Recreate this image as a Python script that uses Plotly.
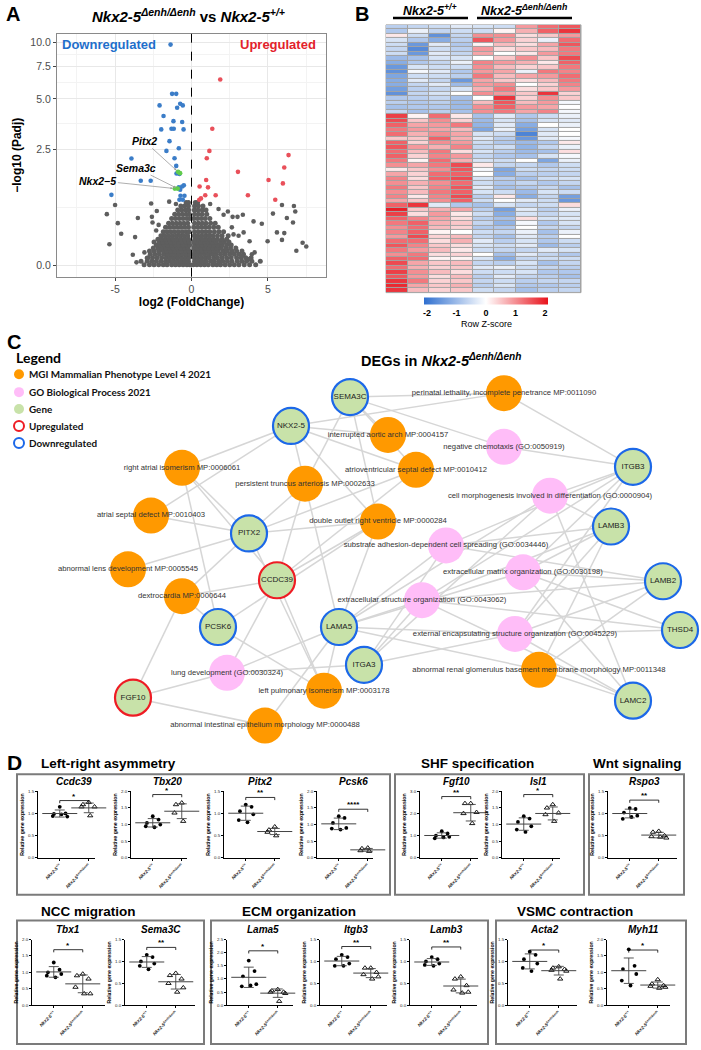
import numpy as np
import plotly.graph_objects as go

W, H = 701, 1050
FONT = "Liberation Sans"
LEG_FONT = "Lato"


def fx(p):
    return p / W


def fy(p):
    return 1 - p / H


# ======================= PANEL A : volcano data =======================
down_fc = [-1.37, -1.27, -1.00, -2.09, -0.74, -0.94, -0.57, -1.83, -1.18, -1.98, -1.31,
           -1.16, -0.61, -1.44, -1.64, -0.83, -0.52, -3.93, -1.11, -1.00, -0.98, -0.79,
           -3.32, -2.67, -0.50, -0.61, -0.83, -0.74, -5.24, -0.72, -0.79, -0.57, -0.46]
down_p = [9.74, 5.33, 5.33, 4.59, 4.69, 4.45, 4.59, 3.99, 3.72, 3.32, 3.35,
          3.35, 3.68, 2.81, 2.43, 2.53, 3.32, 2.16, 2.17, 1.92, 1.69, 1.68,
          1.49, 1.49, 1.37, 1.34, 1.32, 1.26, 1.14, 1.12, 1.03, 1.03, 1.12]
up_fc = [1.88, 1.36, 1.17, 1.00, 6.35, 6.07, 3.04, 0.96, 5.04, 5.98, 0.53, 1.08,
         0.90, 1.58, 3.69, 5.48, 0.51, 0.62]
up_p = [6.38, 3.35, 2.43, 2.17, 2.28, 1.87, 1.74, 1.51, 1.51, 1.42, 1.34, 1.32,
        1.13, 1.13, 1.13, 1.03, 1.03, 1.06]
hl_genes = ["Pitx2", "", "Sema3c", "Nkx2\u22125"]
hl_fc = [-0.88, -0.75, -0.91, -1.09]
hl_p = [1.74, 1.70, 1.29, 1.29]

# dense non-significant cloud, one list of fold changes per -log10(padj) level
cloud_levels = [0.01, 0.05, 0.09, 0.13, 0.17, 0.21, 0.25, 0.29, 0.33, 0.38, 0.44,
                0.51, 0.58, 0.66, 0.74, 0.82, 0.90, 0.97]
cloud_fc = [
    [-3.1, -2.75, -2.45, -2.15, -1.85, -1.6, -1.3, -1.05, -0.8, -0.55, -0.3, -0.1, 0.12, 0.35,
     0.6, 0.85, 1.1, 1.4, 1.65, 1.9, 2.2, 2.5, 2.8, 3.1, 3.45, 3.8, 4.2],
    [-3.3, -2.9, -2.6, -2.3, -2.0, -1.7, -1.45, -1.2, -0.95, -0.7, -0.45, -0.2, 0.2, 0.45,
     0.7, 0.95, 1.25, 1.5, 1.8, 2.05, 2.35, 2.65, 3.0, 3.3, 3.6, 3.95, 4.5],
    [-2.85, -2.55, -2.25, -1.95, -1.65, -1.4, -1.15, -0.9, -0.65, -0.4, -0.18, 0.18, 0.4,
     0.65, 0.9, 1.15, 1.45, 1.7, 2.0, 2.3, 2.6, 2.95, 3.25, 3.55, 3.9],
    [-2.7, -2.4, -2.1, -1.8, -1.55, -1.3, -1.05, -0.8, -0.55, -0.3, -0.12, 0.15, 0.35, 0.6,
     0.85, 1.1, 1.35, 1.6, 1.9, 2.2, 2.5, 2.8, 3.1, 3.4],
    [-2.75, -2.45, -2.15, -1.85, -1.6, -1.35, -1.1, -0.85, -0.6, -0.38, -0.15, 0.2, 0.45,
     0.7, 0.95, 1.2, 1.5, 1.75, 2.05, 2.35, 2.65, 2.95, 3.3],
    [-2.5, -2.2, -1.95, -1.7, -1.45, -1.2, -0.95, -0.7, -0.45, -0.22, 0.15, 0.38, 0.62,
     0.88, 1.12, 1.38, 1.65, 1.95, 2.25, 2.55, 2.9],
    [-2.3, -2.05, -1.8, -1.55, -1.3, -1.05, -0.8, -0.55, -0.3, -0.12, 0.2, 0.45, 0.7, 0.95,
     1.2, 1.45, 1.75, 2.0, 2.3, 2.6],
    [-2.45, -2.1, -1.85, -1.6, -1.35, -1.1, -0.85, -0.6, -0.35, -0.15, 0.15, 0.38, 0.6,
     0.85, 1.1, 1.35, 1.6, 1.9, 2.15, 2.45],
    [-2.2, -1.95, -1.7, -1.45, -1.2, -0.95, -0.7, -0.45, -0.2, 0.22, 0.45, 0.7, 0.95, 1.2,
     1.45, 1.7, 2.0, 2.3],
    [-2.0, -1.75, -1.5, -1.25, -1.0, -0.75, -0.5, -0.25, 0.18, 0.4, 0.65, 0.9, 1.15, 1.4,
     1.7, 2.0, 2.4],
    [-1.85, -1.6, -1.35, -1.1, -0.85, -0.6, -0.35, -0.15, 0.2, 0.45, 0.7, 0.95, 1.2, 1.5,
     1.8, 2.1],
    [-1.7, -1.45, -1.2, -0.95, -0.7, -0.45, -0.2, 0.15, 0.4, 0.65, 0.9, 1.15, 1.45, 1.75],
    [-1.5, -1.25, -1.0, -0.75, -0.5, -0.25, 0.2, 0.45, 0.7, 0.95, 1.25, 1.55],
    [-1.3, -1.05, -0.8, -0.55, -0.3, -0.12, 0.15, 0.4, 0.65, 0.9, 1.2],
    [-1.1, -0.85, -0.6, -0.35, -0.15, 0.2, 0.45, 0.7, 1.0],
    [-0.9, -0.65, -0.4, -0.18, 0.18, 0.42, 0.7, 0.95],
    [-0.7, -0.45, -0.2, 0.2, 0.45, 0.75],
    [-0.35, -0.2, 0.25, 0.4],
]
out_fc = [-5.54, -5.0, -4.82, -4.6, -5.37, -3.69, -3.51, -3.84, -3.6, -2.64, -2.59, -2.27,
          -2.55, -2.15, -2.31, -3.08, -2.92, -1.46, -1.02, 1.22, 1.77, 2.1, 2.38, 2.69, 3.01,
          3.36, 4.06, 4.6, 3.41, 3.8, 4.98, 5.59, 6.07, 5.92, 5.33, 5.92, 6.24, 6.64, 6.79,
          6.7, 7.27, 7.51, 6.86, 4.13, 3.95, 3.78, 3.3, 2.75, 3.08, 2.64]
out_p = [0.74, 0.92, 0.58, 0.41, 0.26, 0.36, 0.67, 0.125, 0.037, 0.95, 0.69, 0.80,
         0.59, 0.55, 0.46, 0.154, 0.087, 0.99, 0.94, 0.94, 0.84, 0.73, 0.79, 0.69, 0.69,
         0.73, 0.61, 0.57, 0.43, 0.30, 0.30, 0.43, 0.42, 0.32, 0.75, 0.92, 0.67, 0.59, 0.79,
         0.90, 0.28, 0.23, 0.175, 0.154, 0.13, 0.074, 0.11, 0.40, 0.38, 0.51]
padj_threshold = 1.0
volcano_ticks = [0.0, 2.5, 5.0, 7.5, 10.0]

# ======================= PANEL B : heatmap data =======================
heat_samples = ["WT1", "WT2", "WT3", "WT4", "KO1", "KO2", "KO3", "KO4", "KO5"]
heat_z = [
    [-0.7, -0.6, -0.5, -0.3, -0.4, -0.5, 0.9, 1.3, 1.5],
    [-0.8, -0.2, -0.6, -0.5, -0.5, 0.1, 0.7, 1.4, 1.8],
    [0.2, -0.5, -1.6, -0.6, 1.0, 1.0, 0.3, 0.5, 0.9],
    [-0.4, -0.8, -1.2, -0.7, 1.5, 0.9, 0.4, -0.2, 1.3],
    [-0.5, -1.5, -0.3, -0.8, 0.1, 0.6, 0.3, 0.8, 1.5],
    [-0.6, -1.7, -0.5, -0.7, 0.9, 0.3, 0.5, 0.6, 1.2],
    [-0.5, -1.5, -0.3, -0.6, 0.8, 0.0, 0.2, 0.9, 1.2],
    [-1.0, -0.9, -0.4, -0.4, 0.0, 0.5, 1.0, 0.5, 1.6],
    [-1.2, -0.8, -0.6, -0.2, 1.1, 0.9, 0.7, 0.2, 1.4],
    [-1.5, -0.4, -0.5, -0.5, 1.0, 0.6, 0.4, 0.5, 1.2],
    [-1.6, -0.1, -0.3, -0.8, 0.9, 0.8, -0.2, 1.2, 1.1],
    [-1.3, -0.5, -0.5, -0.7, 1.2, 0.6, 0.8, 0.9, 1.3],
    [-1.2, -0.3, -0.6, -1.5, 0.8, 0.5, 0.3, 0.6, 1.2],
    [-1.2, -0.6, -0.3, -1.0, 0.9, 1.0, 0.0, 0.4, 1.1],
    [-1.4, -0.7, -0.6, -0.4, 0.7, 1.2, 0.3, 0.5, 0.9],
    [-1.6, -0.6, -0.4, 0.0, 1.0, 0.9, 0.5, 1.8, 0.4],
    [-0.8, -0.7, -0.6, -0.9, 0.0, 1.8, 0.4, 1.0, 0.5],
    [-0.7, -0.8, -0.7, -1.0, 0.6, 1.5, 0.6, 0.9, -0.1],
    [-0.9, -0.8, -0.8, -1.0, 1.0, 1.4, 0.9, 0.8, 0.0],
    [-0.6, -0.9, -0.7, -0.9, 1.0, 1.2, 0.8, 1.1, -0.1],
    [1.7, 0.1, 1.3, 0.2, -0.9, -0.3, -0.8, -0.5, -0.2],
    [1.6, 0.5, 1.0, 0.4, -1.0, -0.4, -0.9, -0.4, -0.3],
    [1.4, 0.8, 0.9, 1.2, -1.1, -0.3, -1.2, 0.0, -0.2],
    [1.2, 0.9, 0.8, 0.6, -1.3, -0.2, -1.4, -0.4, 0.0],
    [1.3, 0.7, 1.0, 0.8, -0.4, -0.5, -1.8, -0.3, 0.0],
    [0.5, 0.5, 1.4, 0.7, -0.3, -0.7, -1.5, -0.3, -0.1],
    [1.4, 0.4, 1.0, 0.9, -0.5, -0.8, -1.0, -0.8, 0.2],
    [1.5, 0.9, 0.7, 1.1, -0.6, -0.5, -1.1, -0.6, -0.2],
    [1.3, 0.6, 1.2, 0.3, -0.4, -0.7, -1.0, -0.9, 0.3],
    [1.4, 0.4, 1.1, 0.9, -0.6, -0.8, -0.9, -0.4, -0.1],
    [1.2, 0.1, 1.3, 0.7, -0.4, -0.5, 0.0, -1.3, -0.2],
    [1.0, 0.8, 1.2, 1.6, 0.2, -0.6, -0.6, -0.8, -0.5],
    [0.2, 0.5, 1.0, 1.5, -0.1, -1.3, -0.5, -0.6, -0.5],
    [0.8, 0.4, 1.3, 1.4, 0.0, -1.2, -0.7, -0.7, -0.6],
    [1.1, 0.3, 1.4, 1.6, -0.4, -0.7, -0.9, -0.5, -0.4],
    [1.0, 0.7, 1.0, 1.3, -0.5, -0.8, -0.6, -0.8, -0.6],
    [1.2, 0.5, 1.1, 1.5, -0.3, -0.9, -0.8, -0.6, -0.9],
    [1.0, 0.6, 1.2, 1.4, -0.4, -0.5, -1.0, -0.4, -0.5],
    [1.1, 0.2, 1.1, 1.6, -0.7, 0.2, -1.2, -0.6, -1.4],
    [0.8, 0.5, 1.0, 1.4, -0.5, 0.0, -0.3, -0.5, -1.5],
    [1.4, 1.8, -0.3, -0.8, -0.9, -0.4, -0.6, -0.5, 0.3],
    [2.0, 0.5, 0.7, 0.8, -0.7, -1.4, -0.3, -0.7, -0.2],
    [1.7, 0.3, 0.9, 0.2, -0.5, -1.2, -0.4, -0.6, -0.4],
    [1.4, 1.1, 0.8, 0.3, -0.7, -0.9, 0.3, -0.4, -0.3],
    [1.2, 1.4, 0.7, 0.5, -0.6, -1.1, -0.1, -0.8, -0.4],
    [1.0, 1.3, 0.6, 0.4, -0.8, -0.8, 0.0, -0.6, -0.6],
    [1.1, 1.4, 0.1, 0.0, -0.5, -0.6, -0.2, -0.9, -0.2],
    [0.9, 1.6, 0.4, 0.6, -0.6, -0.9, -0.3, -0.7, 0.0],
    [1.3, 1.3, 0.3, 0.7, -0.3, -0.7, -0.4, -0.8, -0.5],
    [1.5, 1.1, 0.5, 0.3, -0.4, -0.5, -0.3, -1.0, -0.7],
    [1.2, 0.9, 0.6, 0.2, -0.5, -0.6, -0.6, -0.3, -0.4],
    [1.0, 1.2, 0.3, 0.4, 0.0, -0.9, -0.3, -0.6, -0.8],
    [1.4, 1.3, 0.1, 0.1, -0.4, -1.2, -0.6, -0.5, -0.5],
    [1.6, 0.8, 0.5, 0.6, -0.6, -0.7, -0.4, -0.9, -0.6],
    [1.3, 0.7, 0.4, 0.5, -0.3, -0.2, -0.5, -0.6, -0.7],
    [1.7, 1.0, 0.6, 0.3, -0.5, -0.5, -0.4, -0.8, -0.8],
    [1.5, 0.9, 0.3, 0.6, -0.7, -0.3, -0.6, -0.7, -0.9],
    [1.8, 1.2, 0.4, 0.5, -0.6, -0.5, -0.7, -0.6, -0.6],
    [1.9, 0.8, 0.5, 0.7, -0.7, -0.4, -0.8, -0.8, -0.7],
    [1.8, 0.6, 0.4, 0.5, -0.5, -0.6, -0.9, -0.7, -0.6],
]
zscore_ticks = [-2, -1, 0, 1, 2]

# ======================= PANEL C : network data =======================
net_names = ["NKX2-5", "SEMA3C", "PITX2", "CCDC39", "PCSK6", "FGF10", "LAMA5", "ITGA3",
             "ITGB3", "LAMB3", "LAMB2", "THSD4", "LAMC2",
             "right atrial isomerism MP:0006061", "persistent truncus arteriosis MP:0002633",
             "atrial septal defect MP:0010403", "abnormal lens development MP:0005545",
             "dextrocardia MP:0000644", "left pulmonary isomerism MP:0003178",
             "abnormal intestinal epithelium morphology MP:0000488",
             "perinatal lethality, incomplete penetrance MP:0011090",
             "interrupted aortic arch MP:0004157", "atrioventricular septal defect MP:0010412",
             "double outlet right ventricle MP:0000284",
             "abnormal renal glomerulus basement membrane morphology MP:0011348",
             "negative chemotaxis (GO:0050919)",
             "cell morphogenesis involved in differentiation (GO:0000904)",
             "substrate adhesion-dependent cell spreading (GO:0034446)",
             "extracellular matrix organization (GO:0030198)",
             "extracellular structure organization (GO:0043062)",
             "external encapsulating structure organization (GO:0045229)",
             "lung development (GO:0030324)"]
net_kind = ["down", "down", "down", "up", "down", "up", "down", "down", "down", "down", "down",
            "down", "down"] + ["mgi"] * 12 + ["go"] * 7
net_x = [291, 350, 249, 277, 218, 133, 339, 364, 633, 611, 663, 680, 633,
         182, 305, 151, 128, 182, 324, 265, 504, 388, 416, 378, 539,
         504, 550, 446, 523, 422, 515, 227]
net_y = [426, 397, 534, 581, 628, 699, 628, 666, 467, 527, 582, 631, 702,
         468, 484, 516, 570, 597, 692, 727, 393, 435, 470, 522, 671,
         447, 496, 546, 573, 601, 635, 674]
net_edges = [
    ("NKX2-5", 13), ("NKX2-5", 20), ("NKX2-5", 22), ("NKX2-5", 23), ("NKX2-5", 15), ("NKX2-5", 14),
    ("NKX2-5", 21),
    ("SEMA3C", 20), ("SEMA3C", 25), ("SEMA3C", 21), ("SEMA3C", 14), ("SEMA3C", 23), ("SEMA3C", 22),
    ("PITX2", 13), ("PITX2", 15), ("PITX2", 16), ("PITX2", 17), ("PITX2", 23), ("PITX2", 22),
    ("PITX2", 18), ("PITX2", 14),
    ("CCDC39", 13), ("CCDC39", 17), ("CCDC39", 18), ("CCDC39", 31), ("CCDC39", 23), ("CCDC39", 14),
    ("CCDC39", 22),
    ("PCSK6", 17), ("PCSK6", 18), ("PCSK6", 23), ("PCSK6", 13),
    ("FGF10", 17), ("FGF10", 31), ("FGF10", 19),
    ("LAMA5", 27), ("LAMA5", 28), ("LAMA5", 29), ("LAMA5", 30), ("LAMA5", 24), ("LAMA5", 19),
    ("LAMA5", 31), ("LAMA5", 26), ("LAMA5", 23), ("LAMA5", 18), ("LAMA5", 14),
    ("ITGA3", 29), ("ITGA3", 30), ("ITGA3", 26), ("ITGA3", 31), ("ITGA3", 27),
    ("ITGB3", 20), ("ITGB3", 25), ("ITGB3", 26), ("ITGB3", 27), ("ITGB3", 28), ("ITGB3", 29),
    ("ITGB3", 30),
    ("LAMB3", 27), ("LAMB3", 28), ("LAMB3", 29), ("LAMB3", 30), ("LAMB3", 24), ("LAMB3", 26),
    ("LAMB2", 28), ("LAMB2", 29), ("LAMB2", 30), ("LAMB2", 24), ("LAMB2", 27),
    ("THSD4", 28), ("THSD4", 29), ("THSD4", 30),
    ("LAMC2", 28), ("LAMC2", 29), ("LAMC2", 30), ("LAMC2", 24), ("LAMC2", 26),
]
legend_items = ["MGI Mammalian Phenotype Level 4 2021", "GO Biological Process 2021", "Gene",
                "Upregulated", "Downregulated"]

# ======================= PANEL D : qPCR data =======================
d_genes = ["Ccdc39", "Tbx20", "Pitx2", "Pcsk6", "Fgf10", "Isl1", "Rspo3",
           "Tbx1", "Sema3C", "Lama5", "Itgb3", "Lamb3", "Acta2", "Myh11"]
d_wt = [
    [1.15, 1.00, 0.99, 0.93, 0.94, 0.98],
    [1.25, 1.15, 1.05, 1.00, 0.95, 0.92],
    [1.20, 1.15, 1.05, 0.98, 0.85, 0.80],
    [1.25, 1.20, 1.05, 0.90, 0.88, 0.85],
    [1.20, 1.10, 1.00, 0.95, 0.88, 0.92],
    [1.25, 1.18, 1.08, 0.95, 0.85, 0.78],
    [1.12, 1.10, 1.02, 0.95, 0.88, 0.92],
    [1.30, 1.08, 1.00, 0.95, 0.90, 0.85],
    [1.15, 1.10, 1.00, 0.95, 0.90, 0.82],
    [1.70, 1.30, 1.10, 0.80, 0.72, 0.75],
    [1.15, 1.10, 1.05, 0.95, 0.90, 0.90],
    [1.10, 1.05, 1.00, 0.95, 0.92, 0.90],
    [1.22, 1.15, 1.05, 0.95, 0.85, 0.78],
    [1.70, 1.20, 1.10, 0.95, 0.75, 0.60],
]
d_mut = [
    [1.25, 1.20, 1.15, 1.15, 1.05, 0.95],
    [1.65, 1.60, 1.50, 1.35, 1.20, 1.10],
    [0.70, 0.63, 0.60, 0.58, 0.55, 0.50],
    [0.30, 0.28, 0.25, 0.22, 0.20, 0.20],
    [2.45, 2.45, 2.05, 2.00, 1.70, 1.55],
    [1.60, 1.50, 1.35, 1.30, 1.15, 1.10],
    [0.60, 0.58, 0.50, 0.48, 0.45, 0.47],
    [0.95, 0.90, 0.80, 0.55, 0.35, 0.35],
    [0.73, 0.68, 0.60, 0.50, 0.40, 0.30],
    [0.60, 0.55, 0.50, 0.50, 0.45, 0.15],
    [0.85, 0.85, 0.75, 0.70, 0.65, 0.60],
    [0.65, 0.60, 0.45, 0.35, 0.30, 0.28],
    [0.88, 0.85, 0.82, 0.80, 0.78, 0.60],
    [0.78, 0.65, 0.60, 0.58, 0.55, 0.52],
]
d_sig = ["*", "*", "**", "****", "**", "*", "**", "*", "**", "*", "**", "**", "*", "*"]
d_sig_level = [1.29, 1.90, 1.36, 1.46, 2.76, 1.90, 1.30, 1.69, 1.32, 2.07, 1.34, 1.33, 1.26, 1.68]
d_ymax = [1.5, 2.0, 1.5, 2.0, 3.0, 2.0, 1.5, 2.0, 1.5, 2.5, 1.5, 1.5, 1.5, 2.0]
d_groups = ["Left-right asymmetry", "SHF specification", "Wnt signaling",
            "NCC migration", "ECM organization", "VSMC contraction"]
d_xlabels = ["<i>Nkx2-5</i><sup>+/+</sup>", "<i>Nkx2-5</i><sup>\u0394enh/\u0394enh</sup>"]

# ======================= layout geometry (pixels) =======================
d_box = [(38, 95), (131, 187), (224, 280), (317, 373), (420, 478), (502, 560), (608, 677),
         (32, 105), (125, 195), (227, 293), (320, 387), (410, 477), (508, 577), (607, 670)]
d_row = [0, 0, 0, 0, 0, 0, 0, 1, 1, 1, 1, 1, 1, 1]
row_tb = [(793, 860), (942, 1008)]
group_rect = [(17, 776, 390, 897), (395, 776, 584, 897), (589, 776, 684, 897),
              (17, 923, 204, 1047), (211, 923, 488, 1047), (496, 923, 686, 1047)]
group_title = [(39, 765), (419, 765), (591, 765), (39, 914), (240, 914), (515, 914)]
jit_wt = [0.0, 0.2, -0.2, 0.26, -0.24, 0.06]
jit_mut = [0.0, -0.2, 0.2, -0.25, 0.26, 0.05]

fig = go.Figure()
layout = dict(width=W, height=H, margin=dict(l=0, r=0, t=0, b=0),
              paper_bgcolor="white", plot_bgcolor="rgba(0,0,0,0)", showlegend=False,
              font=dict(family=FONT, color="black"))
annotations = []
shapes = []


def ptext(x, y, text, size, xanchor="center", yanchor="middle", **kw):
    font = dict(size=size)
    font.update(kw.pop("font", {}))
    d = dict(x=fx(x), y=fy(y), xref="paper", yref="paper", xanchor=xanchor,
             yanchor=yanchor, text=text, showarrow=False, font=font)
    d.update(kw)
    return d


# ----------------------------- Panel A -----------------------------
GRAY = "#5e5e5e"
cx, cy = [], []
for lev, xs in zip(cloud_levels, cloud_fc):
    cx += xs
    cy += [1 + lev] * len(xs)
fig.add_trace(go.Scatter(x=cx, y=cy, mode="markers", marker=dict(size=5, color=GRAY),
                         xaxis="x", yaxis="y", hoverinfo="skip"))
fig.add_trace(go.Scatter(x=out_fc, y=[1 + v for v in out_p], mode="markers",
                         marker=dict(size=4.6, color=GRAY), xaxis="x", yaxis="y"))
fig.add_trace(go.Scatter(x=down_fc, y=[1 + v for v in down_p], mode="markers",
                         marker=dict(size=4.6, color="#3b7dc8"), xaxis="x", yaxis="y"))
fig.add_trace(go.Scatter(x=up_fc, y=[1 + v for v in up_p], mode="markers",
                         marker=dict(size=4.6, color="#e9505a"), xaxis="x", yaxis="y"))
fig.add_trace(go.Scatter(x=hl_fc, y=[1 + v for v in hl_p], mode="markers",
                         marker=dict(size=4.8, color="#62cc4c"), xaxis="x", yaxis="y"))

minor_y = [10 ** ((np.log10(1 + a) + np.log10(1 + b)) / 2)
           for a, b in zip(volcano_ticks[:-1], volcano_ticks[1:])]
layout["xaxis"] = dict(domain=[fx(57), fx(326)], range=[-8.8, 8.8], anchor="y",
                       tickvals=[-5, 0, 5], ticktext=["-5", "0", "5"],
                       showgrid=True, gridcolor="#e8e8e8", gridwidth=1,
                       minor=dict(tickvals=[-7.5, -2.5, 2.5, 7.5], showgrid=True,
                                  gridcolor="#f3f3f3", gridwidth=0.7, ticklen=0),
                       zeroline=False, showline=True, mirror=True, linecolor="#8a8a8a",
                       linewidth=1.3, ticks="outside", ticklen=3, tickcolor="#444",
                       tickfont=dict(size=10.5, color="#4d4d4d"),
                       title=dict(text="<b>log2 (FoldChange)</b>", font=dict(size=12),
                                  standoff=2), fixedrange=True)
layout["yaxis"] = dict(domain=[fy(276), fy(32)], type="log", range=[-0.051, 1.081],
                       anchor="x", tickvals=[1 + t for t in volcano_ticks],
                       ticktext=["%.1f" % t for t in volcano_ticks],
                       showgrid=True, gridcolor="#e8e8e8", gridwidth=1,
                       minor=dict(tickvals=minor_y, showgrid=True, gridcolor="#f3f3f3",
                                  gridwidth=0.7, ticklen=0),
                       zeroline=False, showline=True, mirror=True, linecolor="#8a8a8a",
                       linewidth=1.3, ticks="outside", ticklen=3, tickcolor="#444",
                       tickfont=dict(size=10.5, color="#4d4d4d"),
                       title=dict(text="<b>\u2212log10 (Padj)</b>", font=dict(size=12),
                                  standoff=6), fixedrange=True)
shapes.append(dict(type="line", xref="x domain", yref="y", x0=0, x1=1,
                   y0=np.log10(1 + padj_threshold), y1=np.log10(1 + padj_threshold),
                   line=dict(color="black", width=1, dash="dash")))
shapes.append(dict(type="line", xref="x", yref="y domain", x0=0, x1=0, y0=0, y1=1,
                   line=dict(color="black", width=1, dash="dash")))
label_offsets = {"Pitx2": (-34, -31), "Sema3c": (-42, -21), "Nkx2\u22125": (-77, -8)}
for g, xv, pv in zip(hl_genes, hl_fc, hl_p):
    if not g:
        continue
    ax, ay = label_offsets[g]
    annotations.append(dict(x=xv, y=np.log10(1 + pv), xref="x", yref="y",
                            text="<b><i>%s</i></b>" % g, showarrow=True, ax=ax, ay=ay,
                            arrowhead=2, arrowsize=0.6, arrowwidth=0.8, arrowcolor="#9a9a9a",
                            standoff=2, font=dict(size=10.5, color="black")))
annotations += [
    ptext(60, 43, "<b>Downregulated</b>", 13, xanchor="left", font=dict(color="#1f6fcb")),
    ptext(318, 43, "<b>Upregulated</b>", 13, xanchor="right", font=dict(color="#e3212b")),
    ptext(188, 14, "<b><i>Nkx2-5</i><sup><i>\u0394enh/\u0394enh</i></sup> vs <i>Nkx2-5</i>"
                   "<sup><i>+/+</i></sup></b>", 15),
    ptext(4, 12, "<b>A</b>", 20, xanchor="left"),
]

# ----------------------------- Panel B -----------------------------
fig.add_trace(go.Heatmap(z=heat_z, x=heat_samples, y=list(range(len(heat_z))),
                         zmin=-2.1, zmax=2.1, xgap=1, ygap=1,
                         colorscale=[[0, "#2f6fcf"], [0.5, "#ffffff"], [1, "#e8121b"]],
                         xaxis="x2", yaxis="y2", hoverinfo="skip",
                         colorbar=dict(orientation="h", x=fx(486), xanchor="center",
                                       y=fy(305.5), yanchor="middle", len=124,
                                       lenmode="pixels", thickness=7, xpad=0, ypad=0,
                                       tickvals=zscore_ticks,
                                       ticktext=["<b>%d</b>" % t for t in zscore_ticks],
                                       tickfont=dict(size=9, family=FONT), ticks="",
                                       outlinewidth=0)))
layout["xaxis2"] = dict(domain=[fx(386), fx(581)], anchor="y2", visible=False, fixedrange=True)
layout["yaxis2"] = dict(domain=[fy(292), fy(23)], anchor="x2", visible=False,
                        autorange="reversed", fixedrange=True)
shapes.append(dict(type="rect", xref="x2 domain", yref="y2 domain", x0=0, x1=1, y0=0, y1=1,
                   fillcolor="#a3a3a3", line=dict(width=1, color="#a3a3a3"), layer="below"))
annotations += [
    ptext(430, 8, "<b><i>Nkx2-5</i><sup><i>+/+</i></sup></b>", 12.5),
    ptext(524, 8, "<b><i>Nkx2-5</i><sup><i>\u0394enh/\u0394enh</i></sup></b>", 12.5),
    ptext(486, 324, "Row Z-score", 9),
    ptext(353, 12, "<b>B</b>", 20, xanchor="left"),
]
shapes.append(dict(type="line", xref="paper", yref="paper", x0=fx(393), x1=fx(468),
                   y0=fy(16), y1=fy(16), line=dict(color="black", width=2.5)))
shapes.append(dict(type="line", xref="paper", yref="paper", x0=fx(477), x1=fx(572),
                   y0=fy(16), y1=fy(16), line=dict(color="black", width=2.5)))

# ----------------------------- Panel C -----------------------------
ex, ey = [], []
for a, b in net_edges:
    i = net_names.index(a)
    ex += [net_x[i], net_x[b], None]
    ey += [net_y[i], net_y[b], None]
fig.add_trace(go.Scatter(x=ex, y=ey, mode="lines", line=dict(color="#d6d6d6", width=1.5),
                         xaxis="x3", yaxis="y3", hoverinfo="skip"))
kind_style = {
    "mgi": dict(color="#ff9900", line=dict(width=0, color="#ff9900")),
    "go": dict(color="#ffbdf8", line=dict(width=0, color="#ffbdf8")),
    "down": dict(color="#c8e2a9", line=dict(width=2.2, color="#1c68e8")),
    "up": dict(color="#c8e2a9", line=dict(width=2.2, color="#ee1c24")),
}
for kind, st in kind_style.items():
    idx = [i for i, k in enumerate(net_kind) if k == kind]
    fig.add_trace(go.Scatter(x=[net_x[i] for i in idx], y=[net_y[i] for i in idx],
                             mode="markers", marker=dict(size=36, **st),
                             xaxis="x3", yaxis="y3", hoverinfo="skip"))
gi = [i for i, k in enumerate(net_kind) if k in ("up", "down")]
ti = [i for i, k in enumerate(net_kind) if k in ("mgi", "go")]
fig.add_trace(go.Scatter(x=[net_x[i] for i in ti], y=[net_y[i] for i in ti], mode="text",
                         text=[net_names[i] for i in ti], textposition="middle center",
                         textfont=dict(size=7.7, color="#333333", family=FONT),
                         xaxis="x3", yaxis="y3", hoverinfo="skip"))
fig.add_trace(go.Scatter(x=[net_x[i] for i in gi], y=[net_y[i] for i in gi], mode="text",
                         text=[net_names[i] for i in gi], textposition="middle center",
                         textfont=dict(size=8, color="#222222", family=FONT),
                         xaxis="x3", yaxis="y3", hoverinfo="skip"))
# legend
leg_y = [374, 392, 409, 426, 443]
leg_kind = ["mgi", "go", "gene", "up", "down"]
leg_fill = {"mgi": "#ff9900", "go": "#ffbdf8", "gene": "#c8e2a9", "up": "white", "down": "white"}
leg_line = {"mgi": "#ff9900", "go": "#ffbdf8", "gene": "#c8e2a9", "up": "#ee1c24",
            "down": "#1c68e8"}
fig.add_trace(go.Scatter(x=[19] * 5, y=leg_y, mode="markers",
                         marker=dict(size=10, color=[leg_fill[k] for k in leg_kind],
                                     line=dict(width=[0, 0, 0, 2, 2],
                                               color=[leg_line[k] for k in leg_kind])),
                         xaxis="x3", yaxis="y3", hoverinfo="skip"))
layout["xaxis3"] = dict(domain=[0, 1], range=[0, W], anchor="y3", visible=False, fixedrange=True)
layout["yaxis3"] = dict(domain=[0, 1], range=[H, 0], anchor="x3", visible=False, fixedrange=True)
for t, yv in zip(legend_items, leg_y):
    annotations.append(ptext(27, yv, "<b>%s</b>" % t, 9.9, xanchor="left",
                             font=dict(family=LEG_FONT, color="#111")))
annotations += [
    ptext(14, 357, "<b>Legend</b>", 14, xanchor="left", font=dict(family=LEG_FONT)),
    ptext(5, 342, "<b>C</b>", 20, xanchor="left"),
    ptext(359, 360, "<b>DEGs in <i>Nkx2-5</i><sup><i>\u0394enh/\u0394enh</i></sup></b>", 14.5,
          xanchor="left"),
]

# ----------------------------- Panel D -----------------------------
annotations.append(ptext(5, 764, "<b>D</b>", 21, xanchor="left"))
for (x0, y0, x1, y1) in group_rect:
    shapes.append(dict(type="rect", xref="paper", yref="paper", x0=fx(x0), x1=fx(x1),
                       y0=fy(y1), y1=fy(y0), line=dict(color="#7b7b7b", width=2)))
for name, (tx, ty) in zip(d_groups, group_title):
    annotations.append(ptext(tx, ty, "<b>%s</b>" % name, 13.5, xanchor="left"))

for i, g in enumerate(d_genes):
    n = 4 + i
    l, r = d_box[i]
    top, bot = row_tb[d_row[i]]
    ymax = d_ymax[i]
    xr = [-0.75, -0.75 + (r - l) / 29.0]
    wt = d_wt[i]
    mt = d_mut[i]
    fig.add_trace(go.Scatter(x=[0 + j for j in jit_wt], y=wt, mode="markers",
                             marker=dict(size=3.8, color="black"), cliponaxis=False,
                             xaxis="x%d" % n, yaxis="y%d" % n, hoverinfo="skip"))
    fig.add_trace(go.Scatter(x=[1 + j for j in jit_mut], y=mt, mode="markers",
                             marker=dict(size=4.6, symbol="triangle-up-open", color="black",
                                         line=dict(width=0.9)), cliponaxis=False,
                             xaxis="x%d" % n, yaxis="y%d" % n, hoverinfo="skip"))
    means = [float(np.mean(wt)), float(np.mean(mt))]
    sds = [float(np.std(wt, ddof=1)), float(np.std(mt, ddof=1))]
    fig.add_trace(go.Scatter(x=[0, 1], y=means, mode="markers",
                             marker=dict(symbol="line-ew", size=25,
                                         line=dict(width=1, color="#444")),
                             error_y=dict(type="data", array=sds, visible=True, width=5,
                                          thickness=0.9, color="#444"),
                             cliponaxis=False, xaxis="x%d" % n, yaxis="y%d" % n,
                             hoverinfo="skip"))
    ticks = [k * 0.5 for k in range(int(round(ymax / 0.5)) + 1)] if ymax < 3 else [0, 1, 2, 3]
    layout["xaxis%d" % n] = dict(domain=[fx(l), fx(r)], range=xr, anchor="y%d" % n,
                                 showline=True, linecolor="black", linewidth=1,
                                 ticks="outside", ticklen=2, tickwidth=0.8, tickcolor="black",
                                 tickvals=[0, 1], ticktext=["<b>%s</b>" % t for t in d_xlabels],
                                 tickangle=-45, tickfont=dict(size=4.6, color="#222"),
                                 showgrid=False, zeroline=False, fixedrange=True)
    layout["yaxis%d" % n] = dict(domain=[fy(bot), fy(top)], range=[0, ymax], anchor="x%d" % n,
                                 showline=True, linecolor="black", linewidth=1,
                                 ticks="outside", ticklen=2, tickwidth=0.8, tickcolor="black",
                                 tickvals=ticks, ticktext=["%.1f" % t for t in ticks],
                                 tickfont=dict(size=4.4, color="#222"),
                                 title=dict(text="<b>Relative gene expression</b>",
                                            font=dict(size=5.2), standoff=3),
                                 showgrid=False, zeroline=False, fixedrange=True)
    sl = d_sig_level[i]
    dd = 0.04 * ymax
    shapes.append(dict(type="path", xref="x%d" % n, yref="y%d" % n,
                       path="M 0,%f L 0,%f L 1,%f L 1,%f" % (sl - dd, sl, sl, sl - dd),
                       line=dict(color="black", width=0.8)))
    annotations.append(dict(x=0.5, y=sl, xref="x%d" % n, yref="y%d" % n, xanchor="center",
                            yanchor="bottom", text="<b>%s</b>" % d_sig[i], showarrow=False,
                            font=dict(size=8), yshift=-2))
    annotations.append(dict(x=0.5, y=1, xref="x%d" % n, yref="y%d domain" % n,
                            xanchor="center", yanchor="middle", yshift=10,
                            text="<b><i>%s</i></b>" % g, showarrow=False, font=dict(size=10)))

layout["annotations"] = annotations
layout["shapes"] = shapes
fig.update_layout(**layout)
fig.write_html("out.html", config={"displayModeBar": False},
               post_script="document.body.style.margin='0px';"
                           "document.body.style.overflow='hidden';")
